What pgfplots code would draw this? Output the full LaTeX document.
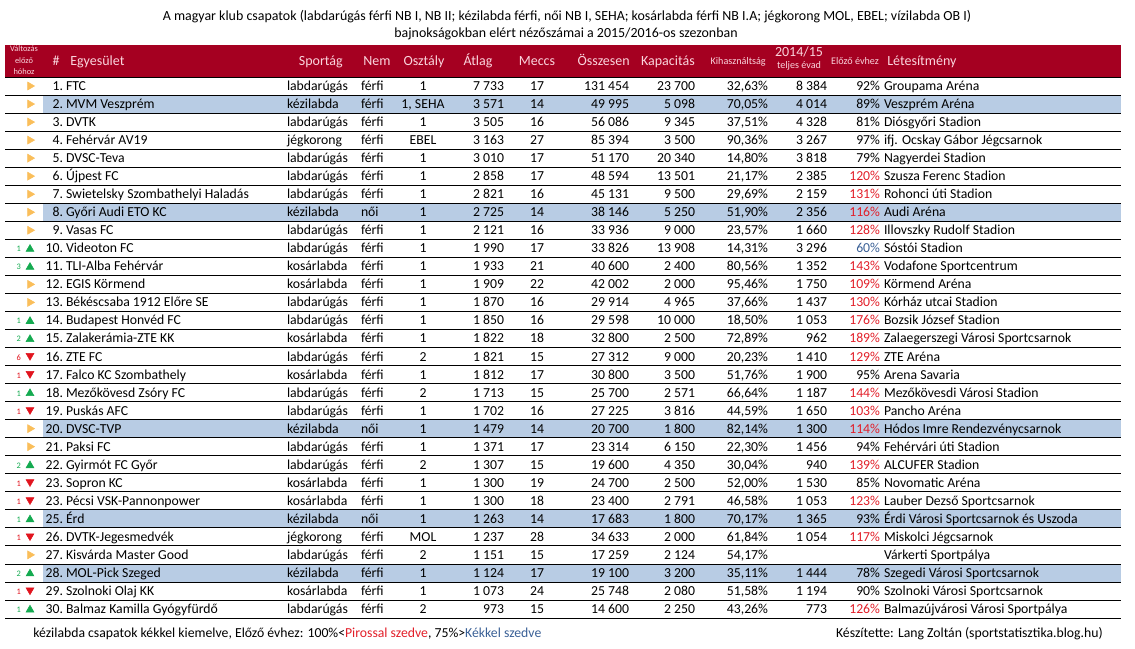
\documentclass[border=0pt]{standalone}
\usepackage{fontspec}
\setmainfont{Carlito}
\usepackage{pgfplots}
\pgfplotsset{compat=1.18}
\usepackage{pgfplotstable}

\definecolor{hdr}{RGB}{165,0,33}
\definecolor{hdrtxt}{RGB}{250,212,220}
\definecolor{hl}{RGB}{184,204,228}
\definecolor{redt}{RGB}{226,30,40}
\definecolor{bluet}{RGB}{58,96,150}
\definecolor{orng}{RGB}{250,190,90}
\definecolor{grn}{RGB}{20,170,80}
\definecolor{redm}{RGB}{225,20,30}

\newcommand\rf{\fontsize{10.3}{12}\selectfont}
\newcommand\tf{\fontsize{10.45}{12}\selectfont}
\newcommand\hf{\fontsize{10.5}{12}\selectfont}
\newcommand\smf{\fontsize{7.6}{9}\selectfont}
\newcommand\tnf{\fontsize{6.3}{7}\selectfont}

\pgfplotstableread[col sep=semicolon]{
r;rank;chg;name;sport;sex;div;avg;m;tot;cap;util;venue
1;1;0;FTC;labdarúgás;férfi;1;7733;17;131454;23700;32.63;Groupama Aréna
2;2;0;MVM Veszprém;kézilabda;férfi;1, SEHA;3571;14;49995;5098;70.05;Veszprém Aréna
3;3;0;DVTK;labdarúgás;férfi;1;3505;16;56086;9345;37.51;Diósgyőri Stadion
4;4;0;Fehérvár AV19;jégkorong;férfi;EBEL;3163;27;85394;3500;90.36;ifj. Ocskay Gábor Jégcsarnok
5;5;0;DVSC-Teva;labdarúgás;férfi;1;3010;17;51170;20340;14.80;Nagyerdei Stadion
6;6;0;Újpest FC;labdarúgás;férfi;1;2858;17;48594;13501;21.17;Szusza Ferenc Stadion
7;7;0;Swietelsky Szombathelyi Haladás;labdarúgás;férfi;1;2821;16;45131;9500;29.69;Rohonci úti Stadion
8;8;0;Győri Audi ETO KC;kézilabda;női;1;2725;14;38146;5250;51.90;Audi Aréna
9;9;0;Vasas FC;labdarúgás;férfi;1;2121;16;33936;9000;23.57;Illovszky Rudolf Stadion
10;10;1;Videoton FC;labdarúgás;férfi;1;1990;17;33826;13908;14.31;Sóstói Stadion
11;11;3;TLI-Alba Fehérvár;kosárlabda;férfi;1;1933;21;40600;2400;80.56;Vodafone Sportcentrum
12;12;0;EGIS Körmend;kosárlabda;férfi;1;1909;22;42002;2000;95.46;Körmend Aréna
13;13;0;Békéscsaba 1912 Előre SE;labdarúgás;férfi;1;1870;16;29914;4965;37.66;Kórház utcai Stadion
14;14;1;Budapest Honvéd FC;labdarúgás;férfi;1;1850;16;29598;10000;18.50;Bozsik József Stadion
15;15;2;Zalakerámia-ZTE KK;kosárlabda;férfi;1;1822;18;32800;2500;72.89;Zalaegerszegi Városi Sportcsarnok
16;16;-6;ZTE FC;labdarúgás;férfi;2;1821;15;27312;9000;20.23;ZTE Aréna
17;17;-1;Falco KC Szombathely;kosárlabda;férfi;1;1812;17;30800;3500;51.76;Arena Savaria
18;18;1;Mezőkövesd Zsóry FC;labdarúgás;férfi;2;1713;15;25700;2571;66.64;Mezőkövesdi Városi Stadion
19;19;-1;Puskás AFC;labdarúgás;férfi;1;1702;16;27225;3816;44.59;Pancho Aréna
20;20;0;DVSC-TVP;kézilabda;női;1;1479;14;20700;1800;82.14;Hódos Imre Rendezvénycsarnok
21;21;0;Paksi FC;labdarúgás;férfi;1;1371;17;23314;6150;22.30;Fehérvári úti Stadion
22;22;2;Gyirmót FC Győr;labdarúgás;férfi;2;1307;15;19600;4350;30.04;ALCUFER Stadion
23;23;-1;Sopron KC;kosárlabda;férfi;1;1300;19;24700;2500;52.00;Novomatic Aréna
24;23;-1;Pécsi VSK-Pannonpower;kosárlabda;férfi;1;1300;18;23400;2791;46.58;Lauber Dezső Sportcsarnok
25;25;1;Érd;kézilabda;női;1;1263;14;17683;1800;70.17;Érdi Városi Sportcsarnok és Uszoda
26;26;-1;DVTK-Jegesmedvék;jégkorong;férfi;MOL;1237;28;34633;2000;61.84;Miskolci Jégcsarnok
27;27;0;Kisvárda Master Good;labdarúgás;férfi;2;1151;15;17259;2124;54.17;Várkerti Sportpálya
28;28;2;MOL-Pick Szeged;kézilabda;férfi;1;1124;17;19100;3200;35.11;Szegedi Városi Sportcsarnok
29;29;-1;Szolnoki Olaj KK;kosárlabda;férfi;1;1073;24;25748;2080;51.58;Szolnoki Városi Sportcsarnok
30;30;1;Balmaz Kamilla Gyógyfürdő;labdarúgás;férfi;2;973;15;14600;2250;43.26;Balmazújvárosi Városi Sportpálya
}\data

% 2014/15 full-season average and ratio to previous year (row 27 has none)
\pgfplotstableread{
r prev ev
1 8384 92
2 4014 89
3 4328 81
4 3267 97
5 3818 79
6 2385 120
7 2159 131
8 2356 116
9 1660 128
10 3296 60
11 1352 143
12 1750 109
13 1437 130
14 1053 176
15 962 189
16 1410 129
17 1900 95
18 1187 144
19 1650 103
20 1300 114
21 1456 94
22 940 139
23 1530 85
24 1053 123
25 1365 93
26 1054 117
28 1444 78
29 1194 90
30 773 126
}\prevdata

\newcommand\YB{72.47+18.0333*\thisrow{r}}
\newcommand\YC{67.97+18.0333*\thisrow{r}}

\pgfplotsset{
  cell/.style={draw=none, mark=none, nodes near coords, forget plot,
    every node near coord/.append style={inner sep=0pt, outer sep=0pt, font=\rf, text=black, anchor=#1}},
  intnum/.style={nodes near coords={\pgfmathprintnumber[fixed,precision=0,1000 sep={\hspace{0.22em}},assume math mode=true]{\pgfplotspointmeta}}},
}

\begin{document}
\begin{tikzpicture}
\begin{axis}[
  scale only axis, width=837pt, height=486.75pt,
  xmin=5, xmax=1121, ymin=0, ymax=649, y dir=reverse,
  clip=false, axis on top,
  axis line style={draw=none},
  xtick=\empty, ytick={77,95.0333,...,619}, yticklabels={},
  major tick length=0pt,
  ymajorgrids, grid style={black, line width=0.6pt},
]
% header band
\addplot[fill=hdr, draw=none, forget plot] coordinates {(5,45)(1121,45)(1121,77)(5,77)} -- cycle;
% highlighted (handball) rows
\addplot[fill=hl, draw=none, forget plot] coordinates {(43,95.03)(1121,95.03)(1121,113.07)(43,113.07)} -- cycle;
\addplot[fill=hl, draw=none, forget plot] coordinates {(43,203.23)(1121,203.23)(1121,221.27)(43,221.27)} -- cycle;
\addplot[fill=hl, draw=none, forget plot] coordinates {(43,419.63)(1121,419.63)(1121,437.67)(43,437.67)} -- cycle;
\addplot[fill=hl, draw=none, forget plot] coordinates {(43,509.80)(1121,509.80)(1121,527.83)(43,527.83)} -- cycle;
\addplot[fill=hl, draw=none, forget plot] coordinates {(43,563.90)(1121,563.90)(1121,581.93)(43,581.93)} -- cycle;

% change markers
\addplot[only marks, mark=triangle*, mark size=3.4pt, mark options={rotate=-90, fill=orng, draw=orng}, restrict expr to domain={\thisrow{chg}}{-0.5:0.5}, forget plot]
  table[x expr=30, y expr={\YC}] {\data};
\addplot[only marks, mark=triangle*, mark size=3.4pt, mark options={fill=grn, draw=grn}, restrict expr to domain={\thisrow{chg}}{0.5:100}, forget plot]
  table[x expr=30, y expr={\YC+0.8}] {\data};
\addplot[only marks, mark=triangle*, mark size=3.4pt, mark options={rotate=180, fill=redm, draw=redm}, restrict expr to domain={\thisrow{chg}}{-100:-0.5}, forget plot]
  table[x expr=30, y expr={\YC-0.8}] {\data};
\addplot[cell=base east, point meta=explicit, restrict expr to domain={\thisrow{chg}}{0.5:100},
  every node near coord/.append style={font=\tnf, text=grn},
  nodes near coords={\pgfmathprintnumber[fixed,precision=0,assume math mode=true]{\pgfplotspointmeta}}]
  table[x expr=21, y expr={\YB-1}, meta=chg] {\data};
\addplot[cell=base east, point meta={-\thisrow{chg}}, restrict expr to domain={\thisrow{chg}}{-100:-0.5},
  every node near coord/.append style={font=\tnf, text=redm},
  nodes near coords={\pgfmathprintnumber[fixed,precision=0,assume math mode=true]{\pgfplotspointmeta}}]
  table[x expr=21, y expr={\YB-1}] {\data};

% rank and name
\addplot[cell=base east, point meta=explicit,
  nodes near coords={\pgfmathprintnumber[fixed,precision=0,assume math mode=true]{\pgfplotspointmeta}.}]
  table[x expr=63, y expr={\YB}, meta=rank] {\data};
\addplot[cell=base west, point meta=explicit symbolic] table[x expr=66, y expr={\YB}, meta=name] {\data};
\addplot[cell=base west, point meta=explicit symbolic] table[x expr=287, y expr={\YB}, meta=sport] {\data};
\addplot[cell=base west, point meta=explicit symbolic] table[x expr=361, y expr={\YB}, meta=sex] {\data};
\addplot[cell=base, point meta=explicit symbolic] table[x expr=423, y expr={\YB}, meta=div] {\data};
\addplot[cell=base east, point meta=explicit, intnum] table[x expr=504, y expr={\YB}, meta=avg] {\data};
\addplot[cell=base, point meta=explicit, intnum] table[x expr=537, y expr={\YB}, meta=m] {\data};
\addplot[cell=base east, point meta=explicit, intnum] table[x expr=629, y expr={\YB}, meta=tot] {\data};
\addplot[cell=base east, point meta=explicit, intnum] table[x expr=695, y expr={\YB}, meta=cap] {\data};
\addplot[cell=base east, point meta=explicit,
  nodes near coords={\pgfmathprintnumber[fixed,precision=2,fixed zerofill,dec sep={,},1000 sep={},assume math mode=true]{\pgfplotspointmeta}\%}]
  table[x expr=768, y expr={\YB}, meta=util] {\data};
\addplot[cell=base east, point meta=explicit, intnum] table[x expr=827, y expr={\YB}, meta=prev] {\prevdata};
\addplot[cell=base east, point meta=explicit, restrict expr to domain={\thisrow{ev}}{100.5:10000},
  every node near coord/.append style={text=redt},
  nodes near coords={\pgfmathprintnumber[fixed,precision=0,assume math mode=true]{\pgfplotspointmeta}\%}]
  table[x expr=880, y expr={\YB}, meta=ev] {\prevdata};
\addplot[cell=base east, point meta=explicit, restrict expr to domain={\thisrow{ev}}{74.5:100.5},
  nodes near coords={\pgfmathprintnumber[fixed,precision=0,assume math mode=true]{\pgfplotspointmeta}\%}]
  table[x expr=880, y expr={\YB}, meta=ev] {\prevdata};
\addplot[cell=base east, point meta=explicit, restrict expr to domain={\thisrow{ev}}{0:74.5},
  every node near coord/.append style={text=bluet},
  nodes near coords={\pgfmathprintnumber[fixed,precision=0,assume math mode=true]{\pgfplotspointmeta}\%}]
  table[x expr=880, y expr={\YB}, meta=ev] {\prevdata};
\addplot[cell=base west, point meta=explicit symbolic] table[x expr=884, y expr={\YB}, meta=venue] {\data};

% title
\node[anchor=base, font=\tf] at (axis cs:567,20.5) {A magyar klub csapatok (labdarúgás férfi NB I, NB II; kézilabda férfi, női NB I, SEHA; kosárlabda férfi NB I.A; jégkorong MOL, EBEL; vízilabda OB I)};
\node[anchor=base, font=\tf] at (axis cs:566,37.5) {bajnokságokban elért nézőszámai a 2015/2016-os szezonban};

% header texts
\begin{scope}[every node/.style={text=hdrtxt, inner sep=0pt}]
\node[anchor=base, font=\tnf] at (axis cs:24,52) {Változás};
\node[anchor=base, font=\tnf] at (axis cs:24,63.5) {előző};
\node[anchor=base, font=\tnf] at (axis cs:24,75) {hóhoz};
\node[anchor=base, font=\hf] at (axis cs:56,65.5) {\#};
\node[anchor=base west, font=\hf] at (axis cs:70,65.5) {Egyesület};
\node[anchor=base east, font=\hf] at (axis cs:343,65.5) {Sportág};
\node[anchor=base, font=\hf] at (axis cs:377,65.5) {Nem};
\node[anchor=base, font=\hf] at (axis cs:424,65.5) {Osztály};
\node[anchor=base, font=\hf] at (axis cs:478,65.5) {Átlag};
\node[anchor=base, font=\hf] at (axis cs:537,65.5) {Meccs};
\node[anchor=base east, font=\hf] at (axis cs:630,65.5) {Összesen};
\node[anchor=base east, font=\hf] at (axis cs:695,65.5) {Kapacitás};
\node[anchor=base east, font=\smf] at (axis cs:766,65) {Kihasználtság};
\node[anchor=base, font=\hf] at (axis cs:799,57) {2014/15};
\node[anchor=base, font=\smf] at (axis cs:799,69) {teljes évad};
\node[anchor=base, font=\smf] at (axis cs:855,65) {Előző évhez};
\node[anchor=base west, font=\hf] at (axis cs:887,65.5) {Létesítmény};
\end{scope}

% footer
\node[anchor=base west, font=\rf, inner sep=0pt] at (axis cs:33,637) {kézilabda csapatok kékkel kiemelve, Előző évhez: 100\%<\textcolor{redt}{Pirossal szedve}, 75\%>\textcolor{bluet}{Kékkel szedve}};
\node[anchor=base east, font=\rf, inner sep=0pt] at (axis cs:1103,637) {Készítette: Lang Zoltán (sportstatisztika.blog.hu)};

\coordinate (BBL) at (axis cs:0,649);
\coordinate (BTR) at (axis cs:1135,0);
\end{axis}
\pgfresetboundingbox
\useasboundingbox (BBL) rectangle (BTR);
\end{tikzpicture}
\end{document}
